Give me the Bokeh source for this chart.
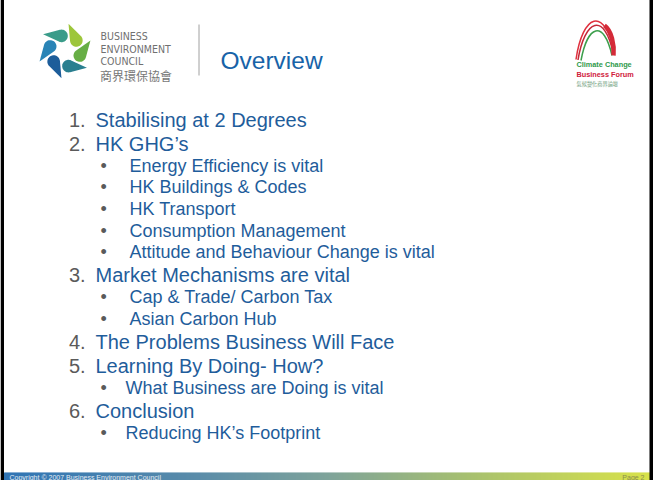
import numpy as np
from bokeh.plotting import figure
from bokeh.models import Range1d
from bokeh.core.properties import value
from bokeh.embed import file_html
from bokeh.resources import INLINE

# ---------------- content ----------------
title = "Overview"
items = [
    "Stabilising at 2 Degrees",
    "HK GHG\u2019s",
    "Energy Efficiency is vital",
    "HK Buildings & Codes",
    "HK Transport",
    "Consumption Management",
    "Attitude and Behaviour Change is vital",
    "Market Mechanisms are vital",
    "Cap & Trade/ Carbon Tax",
    "Asian Carbon Hub",
    "The Problems Business Will Face",
    "Learning By Doing- How?",
    "What Business are Doing is vital",
    "Conclusion",
    "Reducing HK\u2019s Footprint",
]
levels = [1, 1, 2, 2, 2, 2, 2, 1, 2, 2, 1, 1, 2, 1, 2]
bec_lines = ["BUSINESS", "ENVIRONMENT", "COUNCIL"]
bec_chinese = "商界環保協會"
forum_lines = ["Climate Change", "Business Forum"]
forum_chinese = "氣候變化商界論壇"
footer_left = "Copyright \u00a9 2007 Business Environment Council"
footer_right = "Page 2"

# ---------------- styles ----------------
BLUE = "#1f5d9b"
GREY = "#5a5a5a"
FONT = "Liberation Sans"

W, H = 653, 485
X0, Y0 = 8, 3
p = figure(width=W, height=H,
           x_range=Range1d(X0, X0 + W), y_range=Range1d(Y0 + H, Y0),
           output_backend="svg", toolbar_location=None, tools="",
           x_axis_type=None, y_axis_type=None, min_border=0,
           outline_line_color=None, background_fill_color="white",
           border_fill_color="white", styles={"margin-top": "-5px"})

# ---------------- footer gradient bar ----------------
stops_pos = [0.0, 0.30, 0.50, 0.72, 1.0]
stops_col = ["#2f74b4", "#5a8ca9", "#7ea39a", "#a7c06f", "#d8e24a"]
def hex2rgb(h):
    return np.array([int(h[i:i + 2], 16) for i in (1, 3, 5)], dtype=float)
rgb = np.array([hex2rgb(c) for c in stops_col])
fx0, fx1 = 11.5, 657.5
edges = np.arange(fx0, fx1 + 1, 1.0)
mids = (edges[:-1] + edges[1:]) / 2
fr = (mids - fx0) / (fx1 - fx0)
cols = []
for f in fr:
    c = [np.interp(f, stops_pos, rgb[:, k]) for k in range(3)]
    cols.append("#%02x%02x%02x" % tuple(int(round(v)) for v in c))
p.quad(left=edges[:-1], right=edges[1:] + 0.3, top=480, bottom=489,
       fill_color=cols, line_color=None)
p.text(x=[17], y=[484.8], text=[footer_left], text_font=value(FONT),
       text_font_size="7px", text_color="#e4ecf4", text_baseline="middle")
p.text(x=[652], y=[484.8], text=[footer_right], text_font=value(FONT),
       text_font_size="7px", text_color="#8a8d4c", text_baseline="middle",
       text_align="right")

# ---------------- black frame ----------------
p.quad(left=[8, 657, 8], right=[11.5, 661, 661], top=[3, 3, 3],
       bottom=[489, 489, 6.5], fill_color="black", line_color=None)

# ---------------- BEC logo (pinwheel of drops) ----------------
cx, cy = 72.5, 58.5
drop_cols = ["#3b9c8a", "#9dc63b", "#67ae45", "#2a7f90", "#1d5d9a", "#2a84b6"]
xs, ys = [], []
for k in range(6):
    th = np.deg2rad(103 - 60 * k)
    bx, by = cx + 15.5 * np.cos(th), cy - 15.5 * np.sin(th)
    d = th + np.deg2rad(72)
    r, L = 6.3, 18.5
    phi = np.arccos(r / L)
    angs = np.linspace(d + phi, d + 2 * np.pi - phi, 30)
    px = [bx + L * np.cos(d)] + list(bx + r * np.cos(angs))
    py = [by - L * np.sin(d)] + list(by - r * np.sin(angs))
    xs.append(px)
    ys.append(py)
p.patches(xs, ys, fill_color=drop_cols, line_color=None)

p.text(x=[108] * 3, y=[43.5, 56, 68.5], text=bec_lines,
       text_font=value("DejaVu Sans Condensed"), text_font_size="10.5px",
       text_color="#707070", text_baseline="alphabetic")
p.text(x=[107.5], y=[82.5], text=[bec_chinese],
       text_font=value("Noto Sans CJK TC"), text_font_size="12px",
       text_color="#777777", text_baseline="alphabetic")

# separator
p.segment(x0=[206.5], y0=[32], x1=[206.5], y1=[83], line_color="#a0a0a0",
          line_width=1)

# title
p.text(x=[228], y=[67.5], text=[title], text_font=value(FONT),
       text_font_size="24.5px", text_color="#1763a8",
       text_baseline="alphabetic")

# ---------------- forum logo ----------------
p.bezier(x0=[583.5, 585.5, 588.5], y0=[67, 67.5, 68],
         x1=[622, 621, 619.5], y1=[61, 62, 63],
         cx0=[590, 592, 595], cy0=[22, 27, 33],
         cx1=[612, 612, 611], cy1=[12, 18, 26],
         line_color=["#e0303e", "#c42838", "#3c9f4c"], line_width=1.5)
p.bezier(x0=[612], y0=[33], x1=[621], y1=[63], cx0=[619], cy0=[38],
         cx1=[622], cy1=[52], line_color="#d42a38", line_width=4.5)
p.text(x=[584, 584], y=[72, 81.5], text=forum_lines, text_font=value(FONT),
       text_font_size="7.3px", text_font_style="bold",
       text_color=["#2f9a4c", "#d0203c"], text_baseline="middle")
p.text(x=[584], y=[90.5], text=[forum_chinese],
       text_font=value("Noto Sans CJK TC"), text_font_size="5.2px",
       text_color="#6a9a78", text_baseline="middle")

# ---------------- list ----------------
gap = {(1, 1): 24.0, (1, 2): 22.0, (2, 2): 21.7, (2, 1): 23.0}
ys_list = [127.0]
for i in range(1, len(items)):
    ys_list.append(ys_list[-1] + gap[(levels[i - 1], levels[i])])

num_x, num_y, num_t = [], [], []
main_x, main_y, main_t = [], [], []
sub_x, sub_y, sub_t = [], [], []
n = 0
for t, lv, yy in zip(items, levels, ys_list):
    if lv == 1:
        n += 1
        num_x.append(76.5); num_y.append(yy); num_t.append(f"{n}.")
        main_x.append(103); main_y.append(yy); main_t.append(t)
    else:
        sub_x.append(137 if n < 5 else 133); sub_y.append(yy); sub_t.append(t)

p.text(x=num_x, y=num_y, text=num_t, text_font=value(FONT),
       text_font_size="20px", text_color=GREY, text_baseline="alphabetic")
p.text(x=main_x, y=main_y, text=main_t, text_font=value(FONT),
       text_font_size="20px", text_color=BLUE, text_baseline="alphabetic")
p.text(x=[108] * len(sub_y), y=sub_y, text=["\u2022"] * len(sub_y),
       text_font=value(FONT), text_font_size="18px", text_color=GREY,
       text_baseline="alphabetic")
p.text(x=sub_x, y=sub_y, text=sub_t, text_font=value(FONT),
       text_font_size="18px", text_color=BLUE, text_baseline="alphabetic")

open("out.html", "w").write(file_html(p, INLINE))
